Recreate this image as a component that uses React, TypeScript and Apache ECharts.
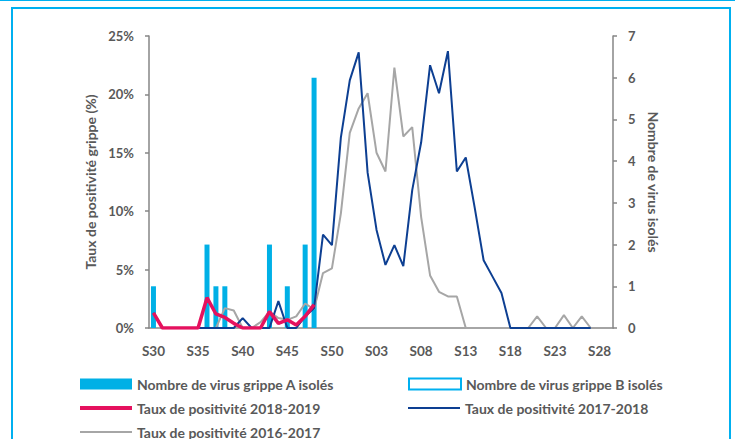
import React, { useEffect, useRef } from "react";
import * as echarts from "echarts";

const weeks: string[] = [
  "S30","S31","S32","S33","S34","S35","S36","S37","S38","S39","S40","S41","S42","S43","S44","S45","S46","S47","S48","S49","S50","S51","S52",
  "S01","S02","S03","S04","S05","S06","S07","S08","S09","S10","S11","S12","S13","S14","S15","S16","S17","S18","S19","S20","S21","S22","S23","S24","S25","S26","S27","S28","S29",
];

// Number of influenza A viruses isolated (right axis), season 2018-2019
const virusA: (number | null)[] = [1, null, null, null, null, null, 2, 1, 1, null, null, null, null, 2, null, 1, null, 2, 6];
// Number of influenza B viruses isolated (none)
const virusB: (number | null)[] = [];

// Positivity rate (%) by season
const taux2018_2019: number[] = [1.3, 0, 0, 0, 0, 0, 2.6, 1.2, 0.9, 0.4, 0, 0, 0, 1.4, 0.4, 0.7, 0.25, 1.0, 2.0];
const taux2017_2018: number[] = [
  1.3, 0, 0, 0, 0, 0, 0, 0, 0, 0, 0.85, 0, 0, 0, 2.3, 0, 0, 1.0, 1.7, 8.0, 7.1, 16.3, 21.2,
  23.6, 13.3, 8.4, 5.4, 7.1, 5.3, 11.8, 15.9, 22.5, 20.1, 23.7, 13.4, 14.6, 10.3, 5.8, 4.4, 3.0, 0, 0, 0, 0, 0, 0, 0, 0, 0, 0,
];
const taux2016_2017: (number | null)[] = [
  null, null, null, null, null, null, null, 0, 1.7, 1.5, 0, 0, 0.5, 1.4, 0.85, 0.7, 1.0, 2.1, 1.6, 4.7, 5.1, 9.8, 16.7,
  18.8, 20.1, 15.0, 13.4, 22.3, 16.4, 17.2, 9.5, 4.5, 3.1, 2.7, 2.7, 0, 0, 0, 0, 0, 0, 0, 0, 1.0, 0, 0, 1.1, 0, 1.0, 0,
];

const leftTicks = [0, 5, 10, 15, 20, 25];
const rightTicks = [0, 1, 2, 3, 4, 5, 6, 7];

const TXT = "#595959";
const AXIS = "#868686";
const FONT = "Lato, 'Open Sans', sans-serif";
const PINK = "#E5115E";
const BLUE = "#0D3F92";
const GREY = "#A6A6A6";
const CYAN = "#00B0E6";

export default function App() {
  const ref = useRef<HTMLDivElement>(null);
  useEffect(() => {
    if (!ref.current) return;
    const chart = echarts.init(ref.current, undefined, { renderer: "svg" });
    const legendText = { color: TXT, fontFamily: FONT, fontWeight: "bold" as const, fontSize: 14 };
    const mkLegend = (name: string, left: number, top: number, h: number) => ({
      left, top, itemWidth: 52, itemHeight: h, itemGap: 8,
      textStyle: legendText, selectedMode: false,
      data: [{ name, icon: "rect" }],
    });
    chart.setOption({
      animation: false,
      backgroundColor: "#ffffff",
      graphic: [
        { type: "rect", shape: { x: 0, y: -1, width: 735, height: 2 }, style: { fill: "#00B0F0" }, silent: true },
        { type: "rect", shape: { x: 12, y: 8, width: 718, height: 445 }, style: { fill: "none", stroke: "#00B0F0", lineWidth: 2 }, silent: true },
      ],
      grid: { left: 149, right: 122, top: 36, bottom: 111 },
      legend: [
        mkLegend("Nombre de virus grippe A isolés", 75, 372, 11),
        mkLegend("Taux de positivité 2018-2019", 75, 396, 4),
        mkLegend("Taux de positivité 2016-2017", 75, 420, 2),
        mkLegend("Nombre de virus grippe B isolés", 403, 372, 11),
        mkLegend("Taux de positivité 2017-2018", 403, 396, 2),
      ],
      xAxis: {
        type: "category",
        data: weeks,
        boundaryGap: true,
        axisLine: { lineStyle: { color: AXIS, width: 1.5 } },
        axisTick: { interval: 4, length: 4, lineStyle: { color: AXIS, width: 1.5 } },
        axisLabel: { interval: 4, color: TXT, fontFamily: FONT, fontWeight: "bold", fontSize: 13.5, margin: 16 },
      },
      yAxis: [
        {
          type: "value", min: leftTicks[0], max: leftTicks[leftTicks.length - 1], interval: 5,
          name: "Taux de positivité grippe (%)", nameLocation: "middle", nameGap: 52, nameRotate: 90,
          nameTextStyle: { color: TXT, fontFamily: FONT, fontWeight: "bold", fontSize: 14 },
          axisLine: { show: true, lineStyle: { color: AXIS, width: 1.5 } },
          axisTick: { show: true, length: 4, lineStyle: { color: AXIS, width: 1.5 } },
          axisLabel: { formatter: "{value}%", color: TXT, fontFamily: FONT, fontWeight: "bold", fontSize: 13, margin: 15 },
          splitLine: { show: false },
        },
        {
          type: "value", min: rightTicks[0], max: rightTicks[rightTicks.length - 1], interval: 1, position: "right",
          name: "Nombre de virus isolés", nameLocation: "middle", nameGap: 32, nameRotate: -90,
          nameTextStyle: { color: TXT, fontFamily: FONT, fontWeight: "bold", fontSize: 14 },
          axisLine: { show: true, lineStyle: { color: AXIS, width: 1.5 } },
          axisTick: { show: true, length: 4, lineStyle: { color: AXIS, width: 1.5 } },
          axisLabel: { color: TXT, fontFamily: FONT, fontWeight: "bold", fontSize: 13, margin: 15 },
          splitLine: { show: false },
        },
      ],
      series: [
        {
          name: "Nombre de virus grippe A isolés", type: "bar", yAxisIndex: 1, data: virusA,
          barWidth: 5, barGap: "-100%", itemStyle: { color: CYAN }, z: 1,
        },
        {
          name: "Nombre de virus grippe B isolés", type: "bar", yAxisIndex: 1, data: virusB,
          barWidth: 5, itemStyle: { color: "#ffffff", borderColor: "#00B0F0", borderWidth: 2 }, z: 1,
        },
        {
          name: "Taux de positivité 2018-2019", type: "line", yAxisIndex: 0, data: taux2018_2019,
          symbol: "none", lineStyle: { color: PINK, width: 3.5 }, itemStyle: { color: PINK }, z: 5,
        },
        {
          name: "Taux de positivité 2017-2018", type: "line", yAxisIndex: 0, data: taux2017_2018,
          symbol: "none", lineStyle: { color: BLUE, width: 2 }, itemStyle: { color: BLUE }, z: 4,
        },
        {
          name: "Taux de positivité 2016-2017", type: "line", yAxisIndex: 0, data: taux2016_2017,
          symbol: "none", lineStyle: { color: GREY, width: 2 }, itemStyle: { color: GREY }, z: 3,
        },
      ],
    });
    return () => chart.dispose();
  }, []);
  return (
    <div style={{ position: "fixed", left: 0, top: 0, width: 735, height: 439, background: "#fff" }}>
      <div ref={ref} style={{ width: 735, height: 439 }} />
    </div>
  );
}
